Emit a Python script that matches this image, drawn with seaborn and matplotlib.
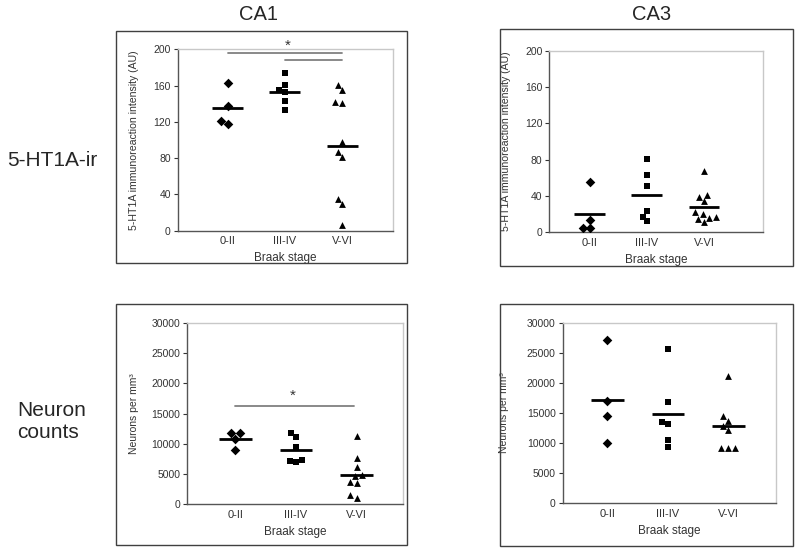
import numpy as np
import pandas as pd
import seaborn as sns
import matplotlib

matplotlib.use("Agg")
import matplotlib.pyplot as plt
from matplotlib.patches import Rectangle

# ---- data ----
stages = ["0-II", "III-IV", "V-VI"]
markers = ["D", "s", "^"]

ca1_ir_0_2 = [163, 138, 118, 121]
ca1_ir_3_4 = [174, 161, 155, 153, 143, 133]
ca1_ir_5_6 = [161, 155, 142, 141, 98, 87, 81, 35, 29, 6]

ca3_ir_0_2 = [55, 14, 5, 5]
ca3_ir_3_4 = [81, 63, 51, 23, 17, 12]
ca3_ir_5_6 = [67, 39, 41, 34, 20, 22, 17, 16, 15, 11]

ca1_cnt_0_2 = [11700, 11700, 10800, 9000]
ca1_cnt_3_4 = [11750, 11200, 9400, 7100, 7400, 7050]
ca1_cnt_5_6 = [11300, 7600, 6100, 4800, 4600, 3700, 3500, 1500, 1000]

ca3_cnt_0_2 = [27100, 17000, 14500, 10000]
ca3_cnt_3_4 = [25600, 16800, 13500, 13100, 10500, 9300]
ca3_cnt_5_6 = [21200, 14500, 13700, 12900, 12200, 9200, 9200, 9200]

ir_label = "5-HT1A immunoreaction intensity (AU)"
cnt_label = "Neurons per mm³"


def long_df(groups):
    rows = []
    for st, vals in zip(stages, groups):
        for v in vals:
            rows.append({"stage": st, "value": v})
    return pd.DataFrame(rows)


sns.set_theme(style="white")
plt.rcParams["font.family"] = ["Liberation Sans", "DejaVu Sans"]

W, H = 800, 553
fig = plt.figure(figsize=(8, 5.53), dpi=100)


def px_axes(l, r, t, b):
    return fig.add_axes([l / W, 1 - b / H, (r - l) / W, (b - t) / H])


def panel(ax, groups, xlim, ylim, yticks, ylabel, ylab_x, ylab_size):
    df = long_df(groups)
    for st, m in zip(stages, markers):
        sns.swarmplot(data=df[df["stage"] == st], x="stage", y="value",
                      order=stages, marker=m, color="black",
                      size=4.4 if m == "s" else 4.9,
                      linewidth=0, ax=ax, zorder=3)
    means = df.groupby("stage")["value"].mean().reindex(stages)
    for i, mv in enumerate(means):
        ax.hlines(mv, i - 0.27, i + 0.27, color="black", lw=2, zorder=4)
    ax.set_xlim(*xlim)
    ax.set_ylim(*ylim)
    ax.set_yticks(yticks)
    ax.set_xticks(range(3))
    ax.set_xticklabels(stages)
    ax.tick_params(axis="x", length=0, labelsize=8, colors="#333333", pad=4)
    ax.tick_params(axis="y", length=3, width=0.8, labelsize=7.5,
                   colors="#333333", direction="out", left=True, pad=2)
    for s in ["left", "bottom"]:
        ax.spines[s].set_color("#555555")
        ax.spines[s].set_linewidth(1)
    for s in ["top", "right"]:
        ax.spines[s].set_color("#c8c8c8")
        ax.spines[s].set_linewidth(1)
    ax.set_xlabel("Braak stage", fontsize=8.5, color="#333333")
    ax.xaxis.set_label_coords(0.5, -0.12)
    ax.set_ylabel(ylabel, fontsize=ylab_size, color="#333333")
    ax.yaxis.set_label_coords(ylab_x, 0.5)


ax1 = px_axes(177.7, 392.7, 49.3, 230.7)
panel(ax1, [ca1_ir_0_2, ca1_ir_3_4, ca1_ir_5_6], (-0.87, 2.88), (0, 200),
      range(0, 201, 40), ir_label, -0.18, 7.6)
ax1.plot([0, 2], [196, 196], color="#808080", lw=1.3, clip_on=False)
ax1.plot([1, 2], [188, 188], color="#808080", lw=1.3, clip_on=False)
ax1.text(1.05, 204, "*", ha="center", va="center", fontsize=11, color="#333333")

ax2 = px_axes(549.3, 763.3, 50.7, 232.3)
panel(ax2, [ca3_ir_0_2, ca3_ir_3_4, ca3_ir_5_6], (-0.71, 3.04), (0, 200),
      range(0, 201, 40), ir_label, -0.18, 7.6)

ax3 = px_axes(187.3, 403.0, 322.7, 504.3)
panel(ax3, [ca1_cnt_0_2, ca1_cnt_3_4, ca1_cnt_5_6], (-0.79, 2.76), (0, 30000),
      range(0, 30001, 5000), cnt_label, -0.225, 7.5)
ax3.plot([0, 1.95], [16300, 16300], color="#808080", lw=1.3)
ax3.text(0.95, 18000, "*", ha="center", va="center", fontsize=11, color="#333333")

ax4 = px_axes(562.7, 776.0, 322.7, 503.3)
panel(ax4, [ca3_cnt_0_2, ca3_cnt_3_4, ca3_cnt_5_6], (-0.74, 2.79), (0, 30000),
      range(0, 30001, 5000), cnt_label, -0.25, 7.5)

# outer frames around each panel
for (x0, x1, y0, y1) in [(116, 407, 31, 263), (500, 793, 29, 266),
                         (116, 407, 304, 545), (500, 793, 304, 546)]:
    fig.add_artist(Rectangle((x0 / W, 1 - y1 / H), (x1 - x0) / W, (y1 - y0) / H,
                             transform=fig.transFigure, fill=False,
                             edgecolor="#404040", lw=1))

fig.text(258 / W, 1 - 14 / H, "CA1", ha="center", va="center", fontsize=14.5)
fig.text(652 / W, 1 - 14 / H, "CA3", ha="center", va="center", fontsize=14.5)
fig.text(52 / W, 1 - 160 / H, "5-HT1A-ir", ha="center", va="center", fontsize=15)
fig.text(17 / W, 1 - 421 / H, "Neuron\ncounts", ha="left", va="center",
         fontsize=15, linespacing=1.2)

fig.savefig("out.png", dpi=100)
plt.close(fig)
